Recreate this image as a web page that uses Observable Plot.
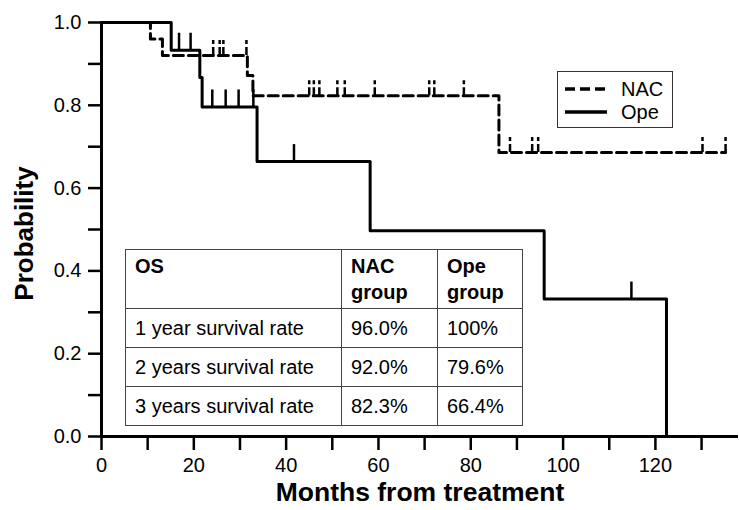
<!DOCTYPE html>
<html>
<head>
<meta charset="utf-8">
<script src="https://cdn.jsdelivr.net/npm/d3@7"></script>
<script src="https://cdn.jsdelivr.net/npm/@observablehq/plot@0.6"></script>
<style>
  html, body { margin: 0; padding: 0; background: #fff; }
  #wrap { position: relative; width: 739px; height: 510px; font-family: "Liberation Sans", Arial, Helvetica, sans-serif; }
  #tbl { position: absolute; left: 125px; top: 249px; border-collapse: collapse; font-size: 20px; color: #000; }
  #tbl td { border: 1px solid #444; padding: 0 0 0 9px; line-height: 26px; vertical-align: middle; box-sizing: border-box; white-space: nowrap; }
  #tbl tr.hdr td { vertical-align: top; padding-top: 3px; font-weight: bold; height: 59px; }
  #tbl tr.row td { height: 39px; }
  #legend { position: absolute; left: 557px; top: 71px; width: 116px; height: 57px; border: 1px solid #333; box-sizing: border-box; background: #fff; font-size: 20px; }
  #legend .item { position: absolute; left: 7px; height: 24px; display: flex; align-items: center; }
  #legend .item span { margin-left: 14px; }
</style>
</head>
<body>
<div id="wrap"></div>
<script>
// ---- data ----
const nacTimes = [0, 10.6, 13.2, 31.6, 32.8, 86.1, 135.2];
const nacSurv  = [1.0, 0.96, 0.92, 0.872, 0.823, 0.686, 0.686];
const nacCensorTimes = [24.2, 25.6, 26.4, 31.4, 45.0, 46.0, 47.2, 51.1, 52.7, 59.2, 71.0, 72.1, 78.5, 88.5, 93.3, 94.6, 130.2, 135.2];
const nacCensorSurv  = [0.92, 0.92, 0.92, 0.92, 0.823, 0.823, 0.823, 0.823, 0.823, 0.823, 0.823, 0.823, 0.823, 0.686, 0.686, 0.686, 0.686, 0.686];

const opeTimes = [0, 15.1, 21.3, 21.8, 33.7, 58.2, 95.9, 122.4];
const opeSurv  = [1.0, 0.933, 0.867, 0.796, 0.664, 0.497, 0.332, 0.0];
const opeCensorTimes = [16.8, 19.3, 24.0, 26.9, 29.7, 32.9, 41.7, 114.8];
const opeCensorSurv  = [0.933, 0.933, 0.796, 0.796, 0.796, 0.796, 0.664, 0.332];

const xTickValues = [0, 10, 20, 30, 40, 50, 60, 70, 80, 90, 100, 110, 120, 130];
const xTickLabels = ["0", "", "20", "", "40", "", "60", "", "80", "", "100", "", "120", ""];
const yTickValues = [0, 0.1, 0.2, 0.3, 0.4, 0.5, 0.6, 0.7, 0.8, 0.9, 1.0];
const yTickLabels = ["0.0", "", "0.2", "", "0.4", "", "0.6", "", "0.8", "", "1.0"];

const seriesNames = ["NAC", "Ope"];
const tableHeader = ["OS", "NAC\ngroup", "Ope\ngroup"];
const tableRowLabels = ["1 year survival rate", "2 years survival rate", "3 years survival rate"];
const tableNAC = ["96.0%", "92.0%", "82.3%"];
const tableOpe = ["100%", "79.6%", "66.4%"];

const xLabel = "Months from treatment";
const yLabel = "Probability";

// ---- build ----
const nac = nacTimes.map((t, i) => ({t, s: nacSurv[i]}));
const ope = opeTimes.map((t, i) => ({t, s: opeSurv[i]}));
const nacC = nacCensorTimes.map((t, i) => ({t, s: nacCensorSurv[i]}));
const opeC = opeCensorTimes.map((t, i) => ({t, s: opeCensorSurv[i]}));

const H = 510, mT = 22, mB = 74;
const pxPerUnitY = (H - mT - mB); // pixels for 1.0
const nacMark = 15 / pxPerUnitY;
const opeMark = 17 / pxPerUnitY;

const chart = Plot.plot({
  width: 739,
  height: H,
  marginLeft: 101,
  marginRight: 1,
  marginTop: mT,
  marginBottom: mB,
  x: {domain: [0, 138]},
  y: {domain: [0, 1]},
  style: {fontFamily: '"Liberation Sans", Arial, Helvetica, sans-serif', fontSize: "20px", color: "#000", background: "#fff", overflow: "visible"},
  marks: [
    Plot.axisX({ticks: xTickValues, tickSize: 14, tickPadding: 7, strokeWidth: 2.5,
      tickFormat: d => xTickLabels[xTickValues.indexOf(d)], label: null, fontSize: 20}),
    Plot.axisY({ticks: yTickValues, tickSize: 13, tickPadding: 7, strokeWidth: 2.5,
      tickFormat: d => yTickLabels[yTickValues.findIndex(v => Math.abs(v - d) < 1e-9)], label: null, fontSize: 20}),
    Plot.ruleY([0], {strokeWidth: 3}),
    Plot.ruleX([0], {strokeWidth: 3}),
    Plot.line(nac, {x: "t", y: "s", curve: "step-after", stroke: "#000", strokeWidth: 3, strokeDasharray: "10,5"}),
    Plot.line(ope, {x: "t", y: "s", curve: "step-after", stroke: "#000", strokeWidth: 3}),
    Plot.ruleX(nacC, {x: "t", y1: "s", y2: d => d.s + nacMark, stroke: "#000", strokeWidth: 2.5, strokeDasharray: "8,3"}),
    Plot.ruleX(opeC, {x: "t", y1: "s", y2: d => d.s + opeMark, stroke: "#000", strokeWidth: 2.5}),
    Plot.text([xLabel], {frameAnchor: "bottom", dy: 64, textAnchor: "middle", fontWeight: "bold", fontSize: 26.5}),
    Plot.text([yLabel], {frameAnchor: "left", dx: -77, dy: 4, rotate: -90, textAnchor: "middle", fontWeight: "bold", fontSize: 26})
  ]
});

const wrap = document.getElementById("wrap");
wrap.appendChild(chart);

// table overlay
const tbl = document.createElement("table");
tbl.id = "tbl";
const colW = [216, 96, 85];
const hdr = document.createElement("tr");
hdr.className = "hdr";
tableHeader.forEach((h, i) => {
  const td = document.createElement("td");
  td.style.width = colW[i] + "px";
  h.split("\n").forEach((line, j) => {
    if (j) td.appendChild(document.createElement("br"));
    td.appendChild(document.createTextNode(line));
  });
  hdr.appendChild(td);
});
tbl.appendChild(hdr);
tableRowLabels.forEach((lab, i) => {
  const tr = document.createElement("tr");
  tr.className = "row";
  [lab, tableNAC[i], tableOpe[i]].forEach((v, j) => {
    const td = document.createElement("td");
    td.style.width = colW[j] + "px";
    td.textContent = v;
    tr.appendChild(td);
  });
  tbl.appendChild(tr);
});
wrap.appendChild(tbl);

// legend overlay
const leg = document.createElement("div");
leg.id = "legend";
const dashes = ["10,5", null];
seriesNames.forEach((name, i) => {
  const it = document.createElement("div");
  it.className = "item";
  it.style.top = (5 + i * 23) + "px";
  const ns = "http://www.w3.org/2000/svg";
  const s = document.createElementNS(ns, "svg");
  s.setAttribute("width", 42); s.setAttribute("height", 10);
  const l = document.createElementNS(ns, "line");
  l.setAttribute("x1", 0); l.setAttribute("x2", 42); l.setAttribute("y1", 5); l.setAttribute("y2", 5);
  l.setAttribute("stroke", "#000"); l.setAttribute("stroke-width", 3.5);
  if (dashes[i]) l.setAttribute("stroke-dasharray", dashes[i]);
  s.appendChild(l);
  it.appendChild(s);
  const sp = document.createElement("span");
  sp.textContent = name;
  it.appendChild(sp);
  leg.appendChild(it);
});
wrap.appendChild(leg);
</script>
</body>
</html>
